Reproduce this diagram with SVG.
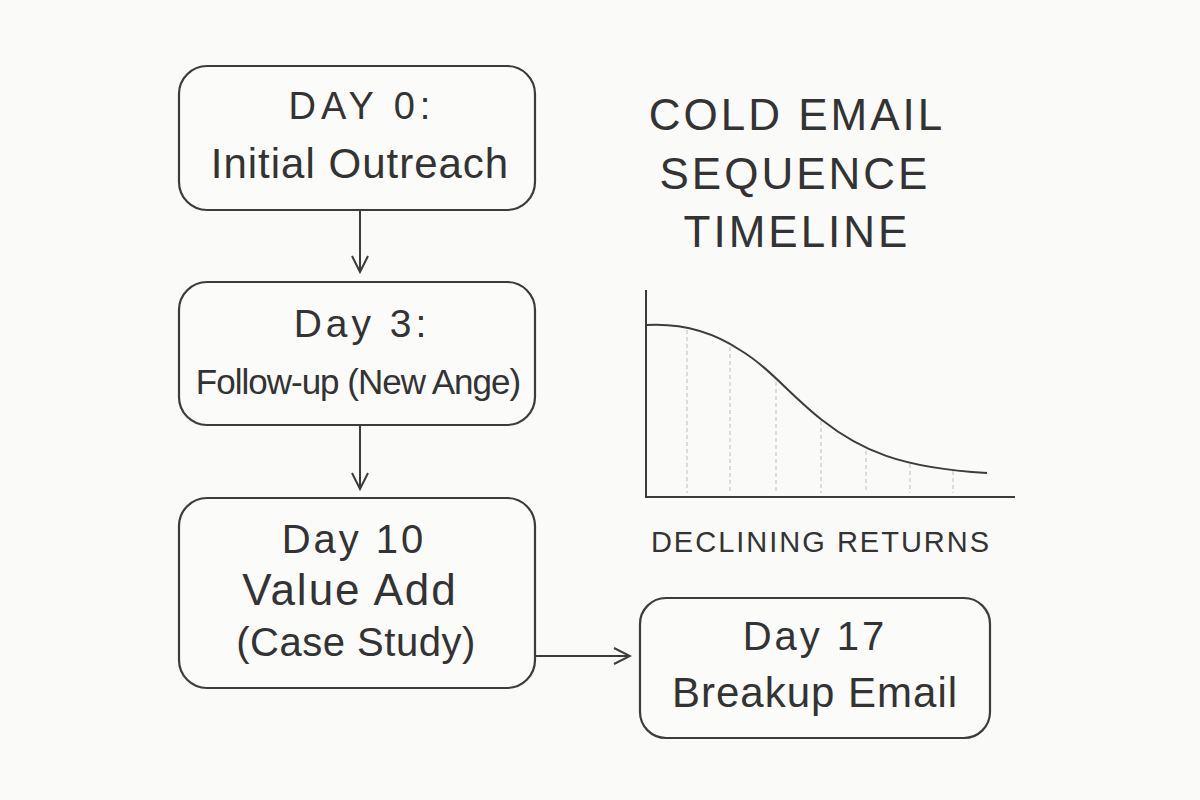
<svg xmlns="http://www.w3.org/2000/svg" width="1200" height="800" viewBox="0 0 1200 800">
<style>
.box{fill:#fbfbfa;stroke:#3c3c3c;stroke-width:2.2}
.t{font-family:"Liberation Sans","DejaVu Sans",sans-serif;fill:#333;text-anchor:middle}
.c{stroke:#3c3c3c;stroke-width:2;fill:none}
.g{stroke:#c8c8c8;stroke-width:1.2;stroke-dasharray:4 3}
</style>
<defs>
<marker id="ah" viewBox="0 0 20 20" refX="18" refY="10" markerWidth="20" markerHeight="20" markerUnits="userSpaceOnUse" orient="auto">
<path d="M2,2 L18,10 L2,18" fill="none" stroke="#3c3c3c" stroke-width="2"/>
</marker>
</defs>
<rect width="1200" height="800" fill="#fafaf8"/>
<g id="connectors">
<line class="c" x1="360" y1="211" x2="360" y2="272" marker-end="url(#ah)"/>
<line class="c" x1="360" y1="426" x2="360" y2="489" marker-end="url(#ah)"/>
<line class="c" x1="536" y1="656" x2="630" y2="656" marker-end="url(#ah)"/>
</g>
<g id="node-day0">
<rect class="box" x="179" y="66" width="356" height="144" rx="28"/>
<text class="t" x="362" y="119" font-size="38" letter-spacing="5">DAY 0:</text>
<text class="t" x="360" y="178" font-size="42" letter-spacing="1">Initial Outreach</text>
</g>
<g id="node-day3">
<rect class="box" x="179" y="282" width="356" height="143" rx="28"/>
<text class="t" x="362" y="337" font-size="39" letter-spacing="4">Day 3:</text>
<text class="t" x="358" y="394" font-size="35" letter-spacing="-1">Follow-up (New Ange)</text>
</g>
<g id="node-day10">
<rect class="box" x="179" y="498" width="356" height="190" rx="28"/>
<text class="t" x="354" y="553" font-size="40" letter-spacing="3">Day 10</text>
<text class="t" x="350" y="605" font-size="44" letter-spacing="2">Value Add</text>
<text class="t" x="356" y="656" font-size="40" letter-spacing="0.5">(Case Study)</text>
</g>
<g id="node-day17">
<rect class="box" x="640" y="598" width="350" height="140" rx="26"/>
<text class="t" x="815" y="650" font-size="40" letter-spacing="3">Day 17</text>
<text class="t" x="815" y="707" font-size="42" letter-spacing="1">Breakup Email</text>
</g>
<g id="title">
<text class="t" x="797" y="130" font-size="44" letter-spacing="3">COLD EMAIL</text>
<text class="t" x="795" y="189" font-size="44" letter-spacing="3">SEQUENCE</text>
<text class="t" x="797" y="247" font-size="44" letter-spacing="3">TIMELINE</text>
</g>
<g id="chart">
<line class="g" x1="687" y1="330" x2="687" y2="493"/>
<line class="g" x1="730" y1="347" x2="730" y2="493"/>
<line class="g" x1="776" y1="382" x2="776" y2="493"/>
<line class="g" x1="821" y1="421" x2="821" y2="493"/>
<line class="g" x1="866" y1="451" x2="866" y2="493"/>
<line class="g" x1="910" y1="464" x2="910" y2="493"/>
<line class="g" x1="953" y1="471" x2="953" y2="493"/>
<path class="c" d="M646,325 C680,323 710,330 740,350 C770,368 790,395 822,420 C860,450 900,468 987,473"/>
<line class="c" x1="646" y1="290" x2="646" y2="498" stroke-width="2.4"/>
<line class="c" x1="645" y1="497" x2="1015" y2="497" stroke-width="2.4"/>
<text class="t" x="821" y="552" font-size="29" letter-spacing="2">DECLINING RETURNS</text>
</g>
</svg>
